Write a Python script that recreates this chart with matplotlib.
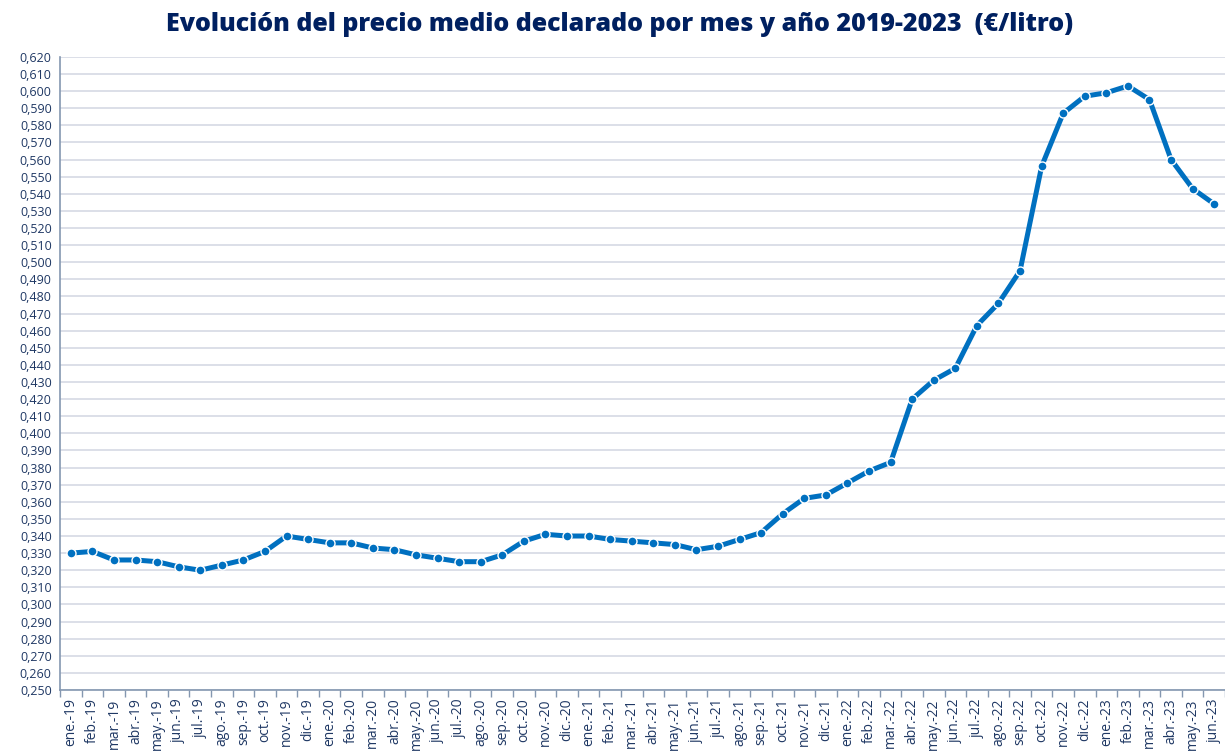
import matplotlib
matplotlib.use("Agg")
import matplotlib.pyplot as plt
from matplotlib.ticker import FuncFormatter, MultipleLocator, FixedLocator
import numpy as np

plt.rcParams["font.family"] = ["Open Sans", "DejaVu Sans"]

meses = ["ene.", "feb.", "mar.", "abr.", "may.", "jun.",
         "jul.", "ago.", "sep.", "oct.", "nov.", "dic."]
anios = ["19", "20", "21", "22", "23"]
etiquetas = [f"{m}-{a}" for a in anios for m in meses][:54]

precio = [0.330, 0.331, 0.326, 0.326, 0.325, 0.322, 0.320, 0.323, 0.326, 0.331,
          0.340, 0.338, 0.336, 0.336, 0.333, 0.332, 0.329, 0.327, 0.325, 0.325,
          0.329, 0.337, 0.341, 0.340, 0.340, 0.338, 0.337, 0.336, 0.335, 0.332,
          0.334, 0.338, 0.342, 0.353, 0.362, 0.364, 0.371, 0.378, 0.383, 0.420,
          0.431, 0.438, 0.463, 0.476, 0.495, 0.556, 0.587, 0.597, 0.599, 0.603,
          0.595, 0.560, 0.543, 0.534]

NAVY = "#002060"
TXT = "#1F3864"
BLUE = "#0070C0"

fig = plt.figure(figsize=(12.25, 7.52), dpi=100)
ax = fig.add_axes([0.049, 0.0824, 0.951, 0.842])

x = np.arange(len(precio))
ax.plot(x, precio, color=BLUE, lw=3.6, marker="o", ms=6.5,
        mfc=BLUE, mec="white", mew=1.0, zorder=3, solid_joinstyle="round")

ax.set_xlim(-0.5, len(precio) - 0.5)
ax.set_ylim(0.250, 0.620)
ax.yaxis.set_major_locator(MultipleLocator(0.010))
ax.yaxis.set_major_formatter(FuncFormatter(lambda v, p: f"{v:.3f}".replace(".", ",")))
ax.grid(axis="y", color="#D9DCE6", lw=1.3, zorder=0)
ax.set_axisbelow(True)

ax.xaxis.set_major_locator(FixedLocator(x))
ax.set_xticklabels(etiquetas, rotation=90, fontsize=10, color=TXT)
ax.xaxis.set_minor_locator(FixedLocator(np.arange(-0.5, len(precio), 1.0)))
ax.tick_params(axis="x", which="major", length=0, pad=6)
ax.tick_params(axis="x", which="minor", length=5, color="#8497B0", width=1)
ax.tick_params(axis="y", length=0, labelsize=9, labelcolor=TXT, pad=6)

for s in ["top", "right"]:
    ax.spines[s].set_visible(False)
ax.spines["left"].set_color("#8497B0")
ax.spines["left"].set_linewidth(1.2)
ax.spines["bottom"].set_color("#8497B0")
ax.spines["bottom"].set_linewidth(1.2)

fig.text(0.506, 0.968, "Evolución del precio medio declarado por mes y año 2019-2023  (€/litro)",
         ha="center", va="center", fontsize=18, fontweight="heavy", color=NAVY)

fig.savefig("out.png", dpi=100)
